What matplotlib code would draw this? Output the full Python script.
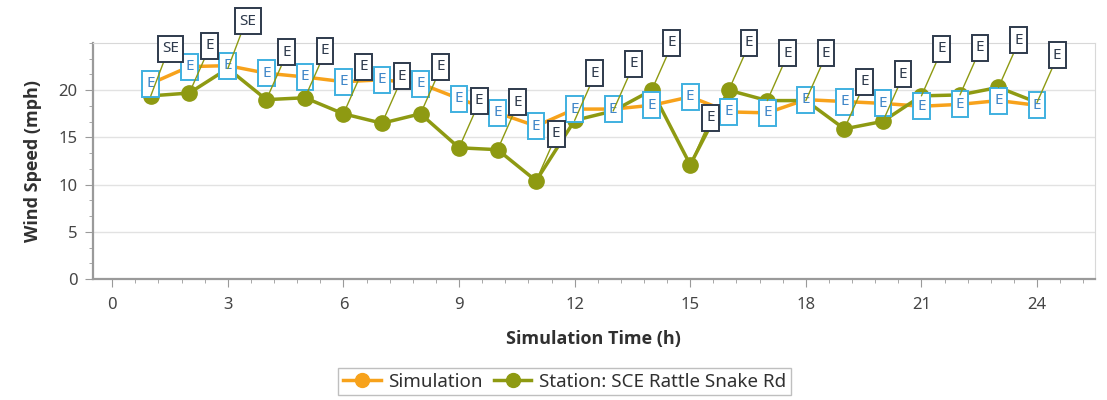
import matplotlib
matplotlib.use("Agg")
import matplotlib.pyplot as plt
from matplotlib.path import Path
from matplotlib.ticker import MultipleLocator

hours = list(range(1, 25))
simulation = [20.7, 22.5, 22.6, 21.8, 21.4, 20.9, 21.1, 20.7, 19.1, 17.6, 16.2, 18.0,
              18.0, 18.4, 19.3, 17.7, 17.6, 19.0, 18.8, 18.6, 18.3, 18.5, 18.9, 18.4]
station = [19.4, 19.7, 22.3, 19.0, 19.2, 17.5, 16.5, 17.5, 13.9, 13.7, 10.4, 16.8,
           17.8, 20.0, 12.1, 20.0, 18.9, 18.9, 15.9, 16.7, 19.4, 19.5, 20.3, 18.7]
sim_dir = ["E"] * 24
station_dir = ["SE", "E", "SE"] + ["E"] * 21

x_ticks = [0, 3, 6, 9, 12, 15, 18, 21, 24]
y_ticks = [0, 5, 10, 15, 20]

ORANGE = "#f7a21b"
OLIVE = "#8e9a12"
BLUE_EDGE = "#3fb0e0"
BLUE_TEXT = "#3f86c8"
DARK = "#2e3a4c"

plt.rcParams['font.family'] = ['Noto Sans', 'DejaVu Sans']


def tall_box(x0, y0, width, height, mutation_size):
    padx = 0.27 * mutation_size
    pady = 0.36 * mutation_size
    x0 -= padx
    y0 -= pady
    x1 = x0 + width + 2 * padx
    y1 = y0 + height + 2 * pady
    return Path([(x0, y0), (x1, y0), (x1, y1), (x0, y1), (x0, y0)],
                [Path.MOVETO, Path.LINETO, Path.LINETO, Path.LINETO, Path.CLOSEPOLY])


fig = plt.figure(figsize=(11.07, 4.0), dpi=100)
ax = fig.add_axes([0.084, 0.3025, 0.905, 0.59])

ax.plot(hours, station, color=OLIVE, lw=2.5, marker="o", ms=11, zorder=3,
        label="Station: SCE Rattle Snake Rd")
ax.plot(hours, simulation, color=ORANGE, lw=2.5, marker="o", ms=10, zorder=2.5,
        label="Simulation")

for h, v, d in zip(hours, simulation, sim_dir):
    ax.annotate(d, (h, v), xytext=(0, 0), textcoords="offset points",
                ha="center", va="center", fontsize=11, color=BLUE_TEXT, zorder=5,
                bbox=dict(boxstyle=tall_box, fc="white", ec=BLUE_EDGE, lw=1.4))

for h, v, d in zip(hours, station, station_dir):
    ax.annotate(d, (h, v), xytext=(14.5, 34), textcoords="offset points",
                ha="center", va="center", fontsize=11, color=DARK, zorder=6,
                bbox=dict(boxstyle=tall_box, fc="white", ec=DARK, lw=1.4),
                arrowprops=dict(arrowstyle="-", color=OLIVE, lw=1.0,
                                shrinkA=0, shrinkB=0, relpos=(0.2, 0.0)))

ax.set_xlim(-0.5, 25.5)
ax.set_ylim(0, 25)
ax.set_xticks(x_ticks)
ax.set_yticks(y_ticks)
ax.xaxis.set_minor_locator(MultipleLocator(0.6))
ax.yaxis.set_minor_locator(MultipleLocator(5 / 3))
ax.grid(axis="y", color="#e2e2e2", lw=1.0, zorder=0)
ax.set_axisbelow(True)

for s in ["top", "right"]:
    ax.spines[s].set_color("#d8d8d8")
for s in ["left", "bottom"]:
    ax.spines[s].set_color("#9a9a9a")
    ax.spines[s].set_linewidth(1.6)

ax.tick_params(axis="both", which="major", length=6, color="#9a9a9a",
               labelsize=12, labelcolor="#454545")
ax.tick_params(axis="both", which="minor", length=3, color="#9a9a9a")
ax.tick_params(axis="x", pad=7)
ax.tick_params(axis="y", pad=5)

label_font = dict(fontsize=13, fontweight="bold", color="#303030",
                  family=["Open Sans", "DejaVu Sans"])
ax.set_ylabel("Wind Speed (mph)", labelpad=12, **label_font)
ax.set_xlabel("Simulation Time (h)", labelpad=12, **label_font)

handles, labels = ax.get_legend_handles_labels()
leg = fig.legend(handles[::-1], labels[::-1], loc="center", bbox_to_anchor=(0.51, 0.046),
                 ncol=2, frameon=True, fancybox=False, edgecolor="#b0b0b0",
                 fontsize=13.5, handlelength=2.0, handletextpad=0.4, columnspacing=0.6,
                 borderpad=0.25, labelcolor="#303030")
leg.get_frame().set_linewidth(1.0)
for line in leg.get_lines():
    line.set_markersize(10)

fig.savefig("out.png", dpi=100)
